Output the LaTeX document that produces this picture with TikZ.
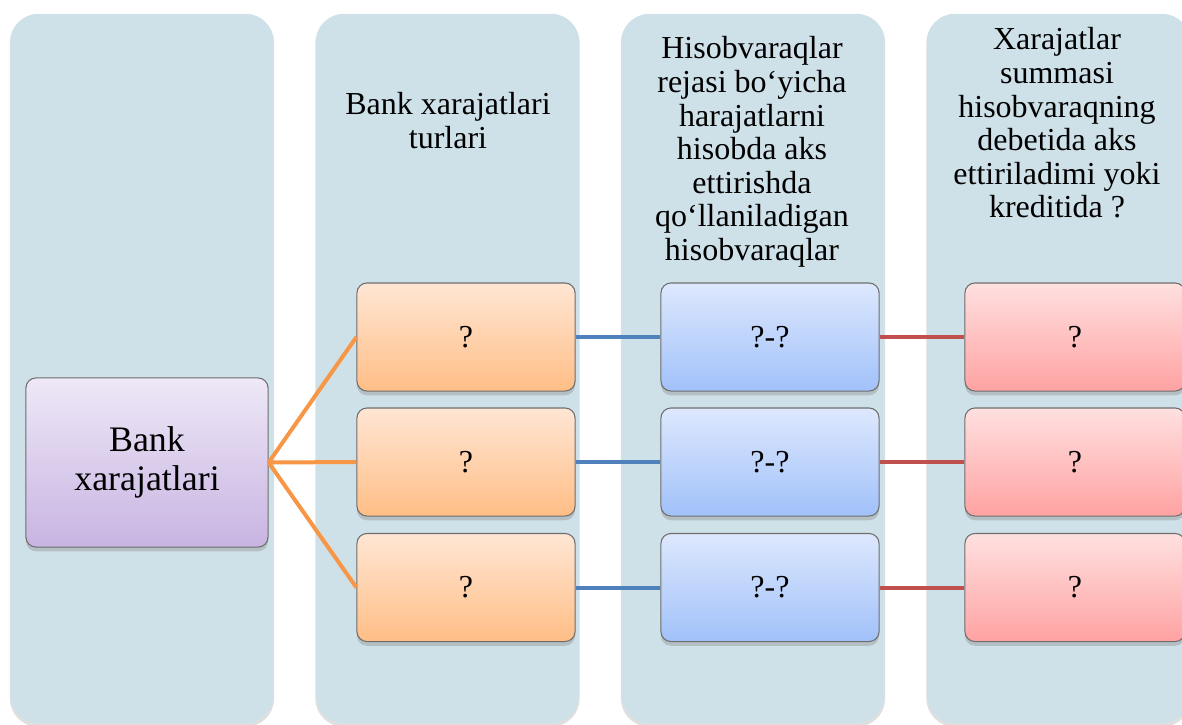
\documentclass[tikz,border=0pt]{standalone}
\usepackage{fontspec}
\setmainfont{Liberation Serif}
\usetikzlibrary{shadows}
\definecolor{colfill}{HTML}{CFE1E8}
\definecolor{boxline}{HTML}{6E6E6E}
\definecolor{purtop}{HTML}{EEE8F7}
\definecolor{purbot}{HTML}{C8B4E2}
\definecolor{oratop}{HTML}{FFE6D4}
\definecolor{orabot}{HTML}{FFBE86}
\definecolor{blutop}{HTML}{DDE8FD}
\definecolor{blubot}{HTML}{A1C1FA}
\definecolor{redtop}{HTML}{FFE0E0}
\definecolor{redbot}{HTML}{FFA2A2}
\definecolor{oraline}{HTML}{F79646}
\definecolor{bluline}{HTML}{4F81BD}
\definecolor{redline}{HTML}{C0504D}
\tikzset{
	column/.style={fill=colfill,rounded corners=0.28cm,minimum width=2.63cm,minimum height=7.09cm,inner sep=0pt,
		drop shadow={shadow xshift=0pt,shadow yshift=-0.6pt,shadow scale=1.004,opacity=0.25}},
	box/.style={draw=boxline,line width=0.3pt,rounded corners=0.1cm,minimum width=2.18cm,minimum height=1.08cm,inner sep=0pt,
		drop shadow={shadow xshift=0pt,shadow yshift=-1.2pt,opacity=0.35},font=\fontsize{9.1}{9.5}\selectfont},
	bankbox/.style={box,minimum width=2.42cm,minimum height=1.69cm,top color=purtop,bottom color=purbot,
		align=center,font=\fontsize{10.2}{11.1}\selectfont},
	typebox/.style={box,top color=oratop,bottom color=orabot},
	accbox/.style={box,top color=blutop,bottom color=blubot},
	sidebox/.style={box,minimum width=2.2cm,top color=redtop,bottom color=redbot},
	head/.style={anchor=north,align=center,inner sep=0pt,font=\fontsize{9.1}{9.55}\selectfont},
	link/.style={line width=0.04cm}
}
\begin{document}
\begin{tikzpicture}[x=0.01cm,y=-0.01cm,line join=round]
	\useasboundingbox (0,0) rectangle (1182,724);
	\clip (0,0) rectangle (1182,724);
	% columns
	\node[column] (col1) at (142,368.5) {};
	\node[column] (col2) at (447.5,368.5) {};
	\node[column] (col3) at (753,368.5) {};
	\node[column] (col4) at (1058.5,368.5) {};
	% headers
	\node[head] (hd2) at (448,92) {Bank xarajatlari\\turlari};
	\node[head] (hd3) at (752,36) {Hisobvaraqlar\\rejasi bo‘yicha\\harajatlarni\\hisobda aks\\ettirishda\\qo‘llaniladigan\\hisobvaraqlar};
	\node[head] (hd4) at (1057,27) {Xarajatlar\\summasi\\hisobvaraqning\\debetida aks\\ettiriladimi yoki\\kreditida ?};
	% boxes
	\node[bankbox] (bank) at (147,462.5) {Bank\\xarajatlari};
	\foreach \i/\y in {1/337,2/462,3/587.5}{
		\node[typebox] (t\i) at (466,\y) {?};
		\node[accbox] (h\i) at (770,\y) {?-?};
		\node[sidebox] (k\i) at (1075,\y) {?};
		\draw[link,oraline] (bank.east)--(t\i.west);
		\draw[link,bluline] (t\i.east)--(h\i.west);
		\draw[link,redline] (h\i.east)--(k\i.west);
	}
\end{tikzpicture}
\end{document}
